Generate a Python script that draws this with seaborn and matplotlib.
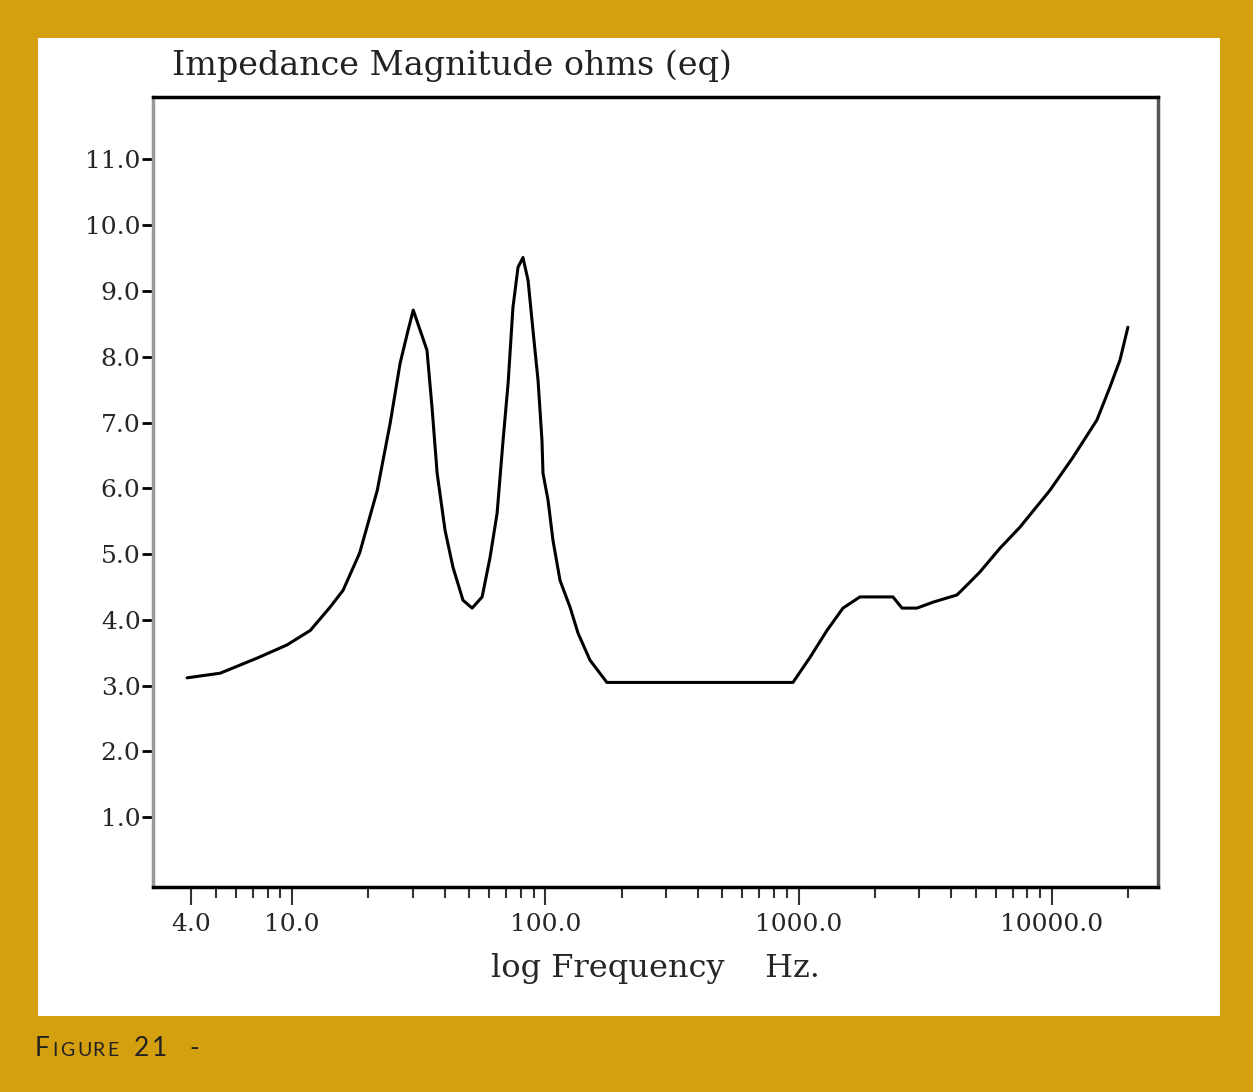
import numpy as np
import pandas as pd
import seaborn as sns
import matplotlib.pyplot as plt
from matplotlib.patches import Rectangle
from matplotlib.ticker import FixedLocator, NullFormatter

# impedance curve (Hz, ohms)
freq = [3.85, 5.2, 7.28, 9.55, 11.8, 14.1, 15.9, 18.5, 21.7, 24.4, 26.7, 28.7, 30.1,
        34.1, 35.7, 37.4, 40.2, 43.2, 47.3, 51.4, 56.3, 60.5, 64.5, 68.1, 71.3, 74.5,
        78.0, 81.6, 85.5, 89.4, 93.6, 97.0, 97.9, 102.5, 107.2, 114.3, 125.3, 134.6,
        150, 175, 408, 950, 1109, 1294, 1497, 1746, 2358, 2560, 2933, 3394, 4220,
        4622, 5200, 6237, 7480, 9820, 12100, 15060, 16950, 18570, 19960]
ohms = [3.12, 3.19, 3.42, 3.62, 3.84, 4.19, 4.45, 5.02, 5.97, 6.99, 7.90, 8.40, 8.71,
        8.10, 7.23, 6.23, 5.36, 4.80, 4.30, 4.18, 4.35, 4.95, 5.62, 6.73, 7.60, 8.75,
        9.36, 9.51, 9.16, 8.40, 7.64, 6.73, 6.23, 5.82, 5.21, 4.60, 4.19, 3.80,
        3.39, 3.05, 3.05, 3.05, 3.43, 3.84, 4.18, 4.35, 4.35, 4.18, 4.18, 4.27, 4.38,
        4.53, 4.73, 5.09, 5.41, 5.97, 6.47, 7.04, 7.54, 7.95, 8.45]

xticks = [4, 10, 100, 1000, 10000]
xticklabels = ['4.0', '10.0', '100.0', '1000.0', '10000.0']
yticks = [1, 2, 3, 4, 5, 6, 7, 8, 9, 10, 11]
yticklabels = ['1.0', '2.0', '3.0', '4.0', '5.0', '6.0', '7.0', '8.0', '9.0', '10.0', '11.0']

df = pd.DataFrame({'freq': freq, 'ohms': ohms})

sns.set_style('white')
plt.rcParams['font.family'] = ['DejaVu Serif']

gold = '#D5A00F'
fig = plt.figure(figsize=(12.53, 10.92), dpi=100, facecolor=gold)
fig.patches.append(Rectangle((38/1253, 1-1016/1092), (1220-38)/1253, (1016-38)/1092,
                             transform=fig.transFigure, facecolor='white', edgecolor='none', zorder=-5))

ax = fig.add_axes([153/1253, 1-887/1092, (1158-153)/1253, (887-97)/1092])
ax.set_zorder(2)
sns.lineplot(data=df, x='freq', y='ohms', color='black', linewidth=2.2, ax=ax)
ax.set_xscale('log')
ax.set_xlim(2.825, 26240)
ax.set_ylim(-0.06, 11.95)

ax.xaxis.set_major_locator(FixedLocator(xticks))
ax.set_xticklabels(xticklabels)
minors = [m * 10**d for d in range(0, 5) for m in range(2, 10)]
ax.xaxis.set_minor_locator(FixedLocator([v for v in minors if 4 < v < 26000 and v not in xticks]))
ax.xaxis.set_minor_formatter(NullFormatter())
ax.set_yticks(yticks)
ax.set_yticklabels(yticklabels)

ax.tick_params(axis='x', which='major', direction='out', length=13, width=1.5, color='#333',
               labelsize=18, pad=6, bottom=True)
ax.tick_params(axis='x', which='minor', direction='out', length=8, width=1.5, color='#333', bottom=True)
ax.tick_params(axis='y', which='major', direction='out', length=8, width=2, color='black',
               labelsize=18, pad=1, left=True)

for side in ['top', 'bottom']:
    ax.spines[side].set_color('black')
    ax.spines[side].set_linewidth(2.5)
ax.spines['left'].set_color('#999999')
ax.spines['left'].set_linewidth(2.5)
ax.spines['right'].set_color('#555555')
ax.spines['right'].set_linewidth(2.5)

ax.set_xlabel('log Frequency    Hz.', fontsize=23, labelpad=12)
ax.set_ylabel('')

fig.text(172/1253, 1-66/1092, 'Impedance Magnitude ohms (eq)', fontsize=24,
         ha='left', va='center', color='#222')

# caption in small caps
cap = [('F', 35, 19), ('I', 52, 14), ('G', 60, 14), ('U', 77, 14), ('R', 92, 14), ('E', 107, 14),
       ('2', 134, 19), ('1', 152, 19), ('-', 189, 19)]
for ch, px, fs in cap:
    fig.text(px/1253, 1-1056/1092, ch, fontsize=fs, family=['Lato', 'DejaVu Sans'],
             color='#222', ha='left', va='baseline')

fig.savefig('out.png', dpi=100, facecolor=gold)
